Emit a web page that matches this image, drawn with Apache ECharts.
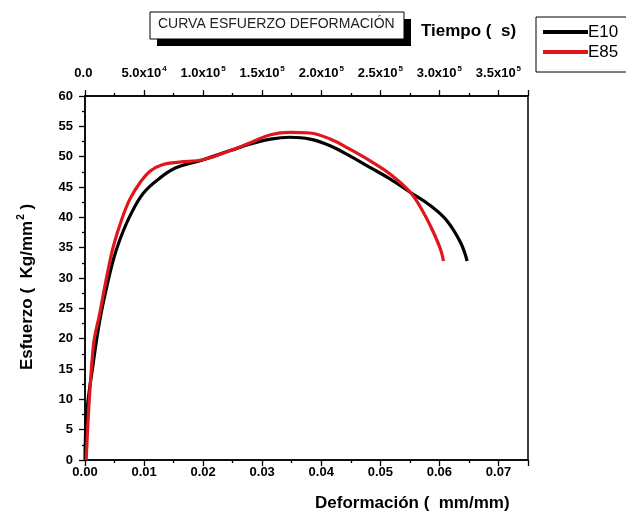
<!DOCTYPE html>
<html>
<head>
<meta charset="utf-8">
<script src="https://cdn.jsdelivr.net/npm/echarts@6/dist/echarts.min.js"></script>
<style>
  html, body { margin: 0; padding: 0; background: #fff; }
  #chart { width: 626px; height: 514px; }
</style>
</head>
<body>
<div id="chart"></div>
<script>
// datos
const seriesNames = ["E10", "E85"];
const strainE10 = [0, 0.0003, 0.0014, 0.0025, 0.0037, 0.0048, 0.0059, 0.0076, 0.0099, 0.0127, 0.0155, 0.02, 0.0246, 0.028, 0.0314, 0.0347, 0.0381, 0.0415, 0.0449, 0.0483, 0.0517, 0.0551, 0.0585, 0.0613, 0.0636, 0.0647];
const stressE10 = [0, 7.7, 16, 23, 28.6, 33, 36.3, 40.2, 44, 46.5, 48.2, 49.5, 51.0, 52.1, 52.9, 53.2, 52.9, 51.8, 50.1, 48.2, 46.3, 44.1, 41.9, 39.4, 35.8, 32.8];
const strainE85 = [0.0002, 0.0014, 0.0025, 0.0037, 0.0048, 0.0062, 0.0076, 0.0093, 0.011, 0.0132, 0.016, 0.02, 0.0246, 0.028, 0.0314, 0.0347, 0.0381, 0.0415, 0.0449, 0.0483, 0.0517, 0.0551, 0.0573, 0.059, 0.0602, 0.0607];
const stressE85 = [0, 18.7, 24.2, 30.3, 35.2, 39.6, 43, 45.7, 47.6, 48.7, 49.1, 49.5, 51.0, 52.3, 53.6, 54.0, 53.9, 52.9, 51.2, 49.3, 47.1, 44.1, 40.8, 37.5, 34.7, 32.8];
const timeTickLabels = ["0.0", "5.0x10|4", "1.0x10|5", "1.5x10|5", "2.0x10|5", "2.5x10|5", "3.0x10|5", "3.5x10|5"];

const chart = echarts.init(document.getElementById("chart"));

const font = "Liberation Sans, Arial, sans-serif";
const tickFont = { color: "#000", fontFamily: font, fontWeight: "bold", fontSize: 13 };
const tickLine = { color: "#000", width: 1.3 };

function pairs(xs, ys) {
  return xs.map((x, i) => [x, ys[i]]);
}

const option = {
  animation: false,
  grid: {
    left: 85, right: 98, top: 96, bottom: 54,
    show: true, borderColor: "#000", borderWidth: 1.5, backgroundColor: "transparent"
  },
  legend: {
    data: seriesNames,
    orient: "vertical",
    left: 536, top: 17,
    itemWidth: 45, itemHeight: 4, itemGap: 0,
    icon: "rect",
    borderColor: "#000", borderWidth: 1,
    padding: [5, 50, 10, 7],
    textStyle: { color: "#000", fontFamily: font, fontSize: 17, lineHeight: 20, padding: [0, 0, 0, -5] }
  },
  xAxis: [
    {
      type: "value", min: 0, max: 0.075, interval: 0.01,
      axisLine: { lineStyle: { color: "#000", width: 1.5 } },
      axisTick: { length: 6, lineStyle: tickLine },
      minorTick: { show: true, splitNumber: 2, length: 3, lineStyle: tickLine },
      splitLine: { show: false },
      axisLabel: Object.assign({ margin: 6, showMaxLabel: false, formatter: v => v.toFixed(2) }, tickFont)
    },
    {
      type: "value", position: "top", min: 0, max: 375000, interval: 50000,
      axisLine: { lineStyle: { color: "#000", width: 1.5 } },
      axisTick: { length: 6, lineStyle: tickLine },
      minorTick: { show: true, splitNumber: 2, length: 3, lineStyle: tickLine },
      splitLine: { show: false },
      axisLabel: Object.assign({
        margin: 14, showMaxLabel: false,
        formatter: (v, i) => {
          const t = timeTickLabels[i];
          if (!t) return "";
          const p = t.split("|");
          // superindice vacio en "0.0" para igualar la altura de linea
          return "{m|" + p[0] + "}{s|" + (p[1] || " ") + "}";
        },
        rich: {
          m: { fontFamily: font, fontWeight: "bold", fontSize: 13, color: "#000" },
          s: { fontFamily: font, fontWeight: "bold", fontSize: 8, color: "#000", padding: [0, 0, 9, 1] }
        }
      }, tickFont)
    }
  ],
  yAxis: {
    type: "value", min: 0, max: 60, interval: 5,
    axisLine: { lineStyle: { color: "#000", width: 1.5 } },
    axisTick: { length: 6, lineStyle: tickLine },
    minorTick: { show: true, splitNumber: 2, length: 3, lineStyle: tickLine },
    splitLine: { show: false },
    axisLabel: Object.assign({ margin: 12 }, tickFont)
  },
  graphic: [
    { type: "rect", shape: { x: 157, y: 19, width: 254, height: 27 }, style: { fill: "#000" } },
    { type: "rect", shape: { x: 150, y: 12, width: 254, height: 27 }, style: { fill: "#fff", stroke: "#000", lineWidth: 1 } },
    { type: "text", left: 158, top: 17, style: { text: "CURVA ESFUERZO DEFORMACIÓN", fill: "#222", font: "14px " + font } },
    { type: "text", left: 421, top: 23, style: { text: "Tiempo (  s)", fill: "#000", font: "bold 17px " + font } },
    { type: "text", left: 315, top: 495, style: { text: "Deformación (  mm/mm)", fill: "#000", font: "bold 17px " + font } },
    {
      type: "text", x: 27, y: 287, rotation: Math.PI / 2,
      style: {
        text: "{m|Esfuerzo (  Kg/mm}{s|2}{m| )}",
        align: "center", verticalAlign: "middle",
        rich: {
          m: { fontFamily: font, fontWeight: "bold", fontSize: 17, fill: "#000" },
          s: { fontFamily: font, fontWeight: "bold", fontSize: 10, fill: "#000", padding: [0, 0, 12, 1] }
        }
      }
    }
  ],
  series: [
    {
      name: "E10", type: "line", xAxisIndex: 0, data: pairs(strainE10, stressE10),
      smooth: 0.4, showSymbol: false, symbol: "none",
      lineStyle: { color: "#000", width: 3.2 }, itemStyle: { color: "#000" }
    },
    {
      name: "E85", type: "line", xAxisIndex: 0, data: pairs(strainE85, stressE85),
      smooth: 0.4, showSymbol: false, symbol: "none",
      lineStyle: { color: "#e0161b", width: 3.2 }, itemStyle: { color: "#e0161b" }
    }
  ]
};

chart.setOption(option);
</script>
</body>
</html>
